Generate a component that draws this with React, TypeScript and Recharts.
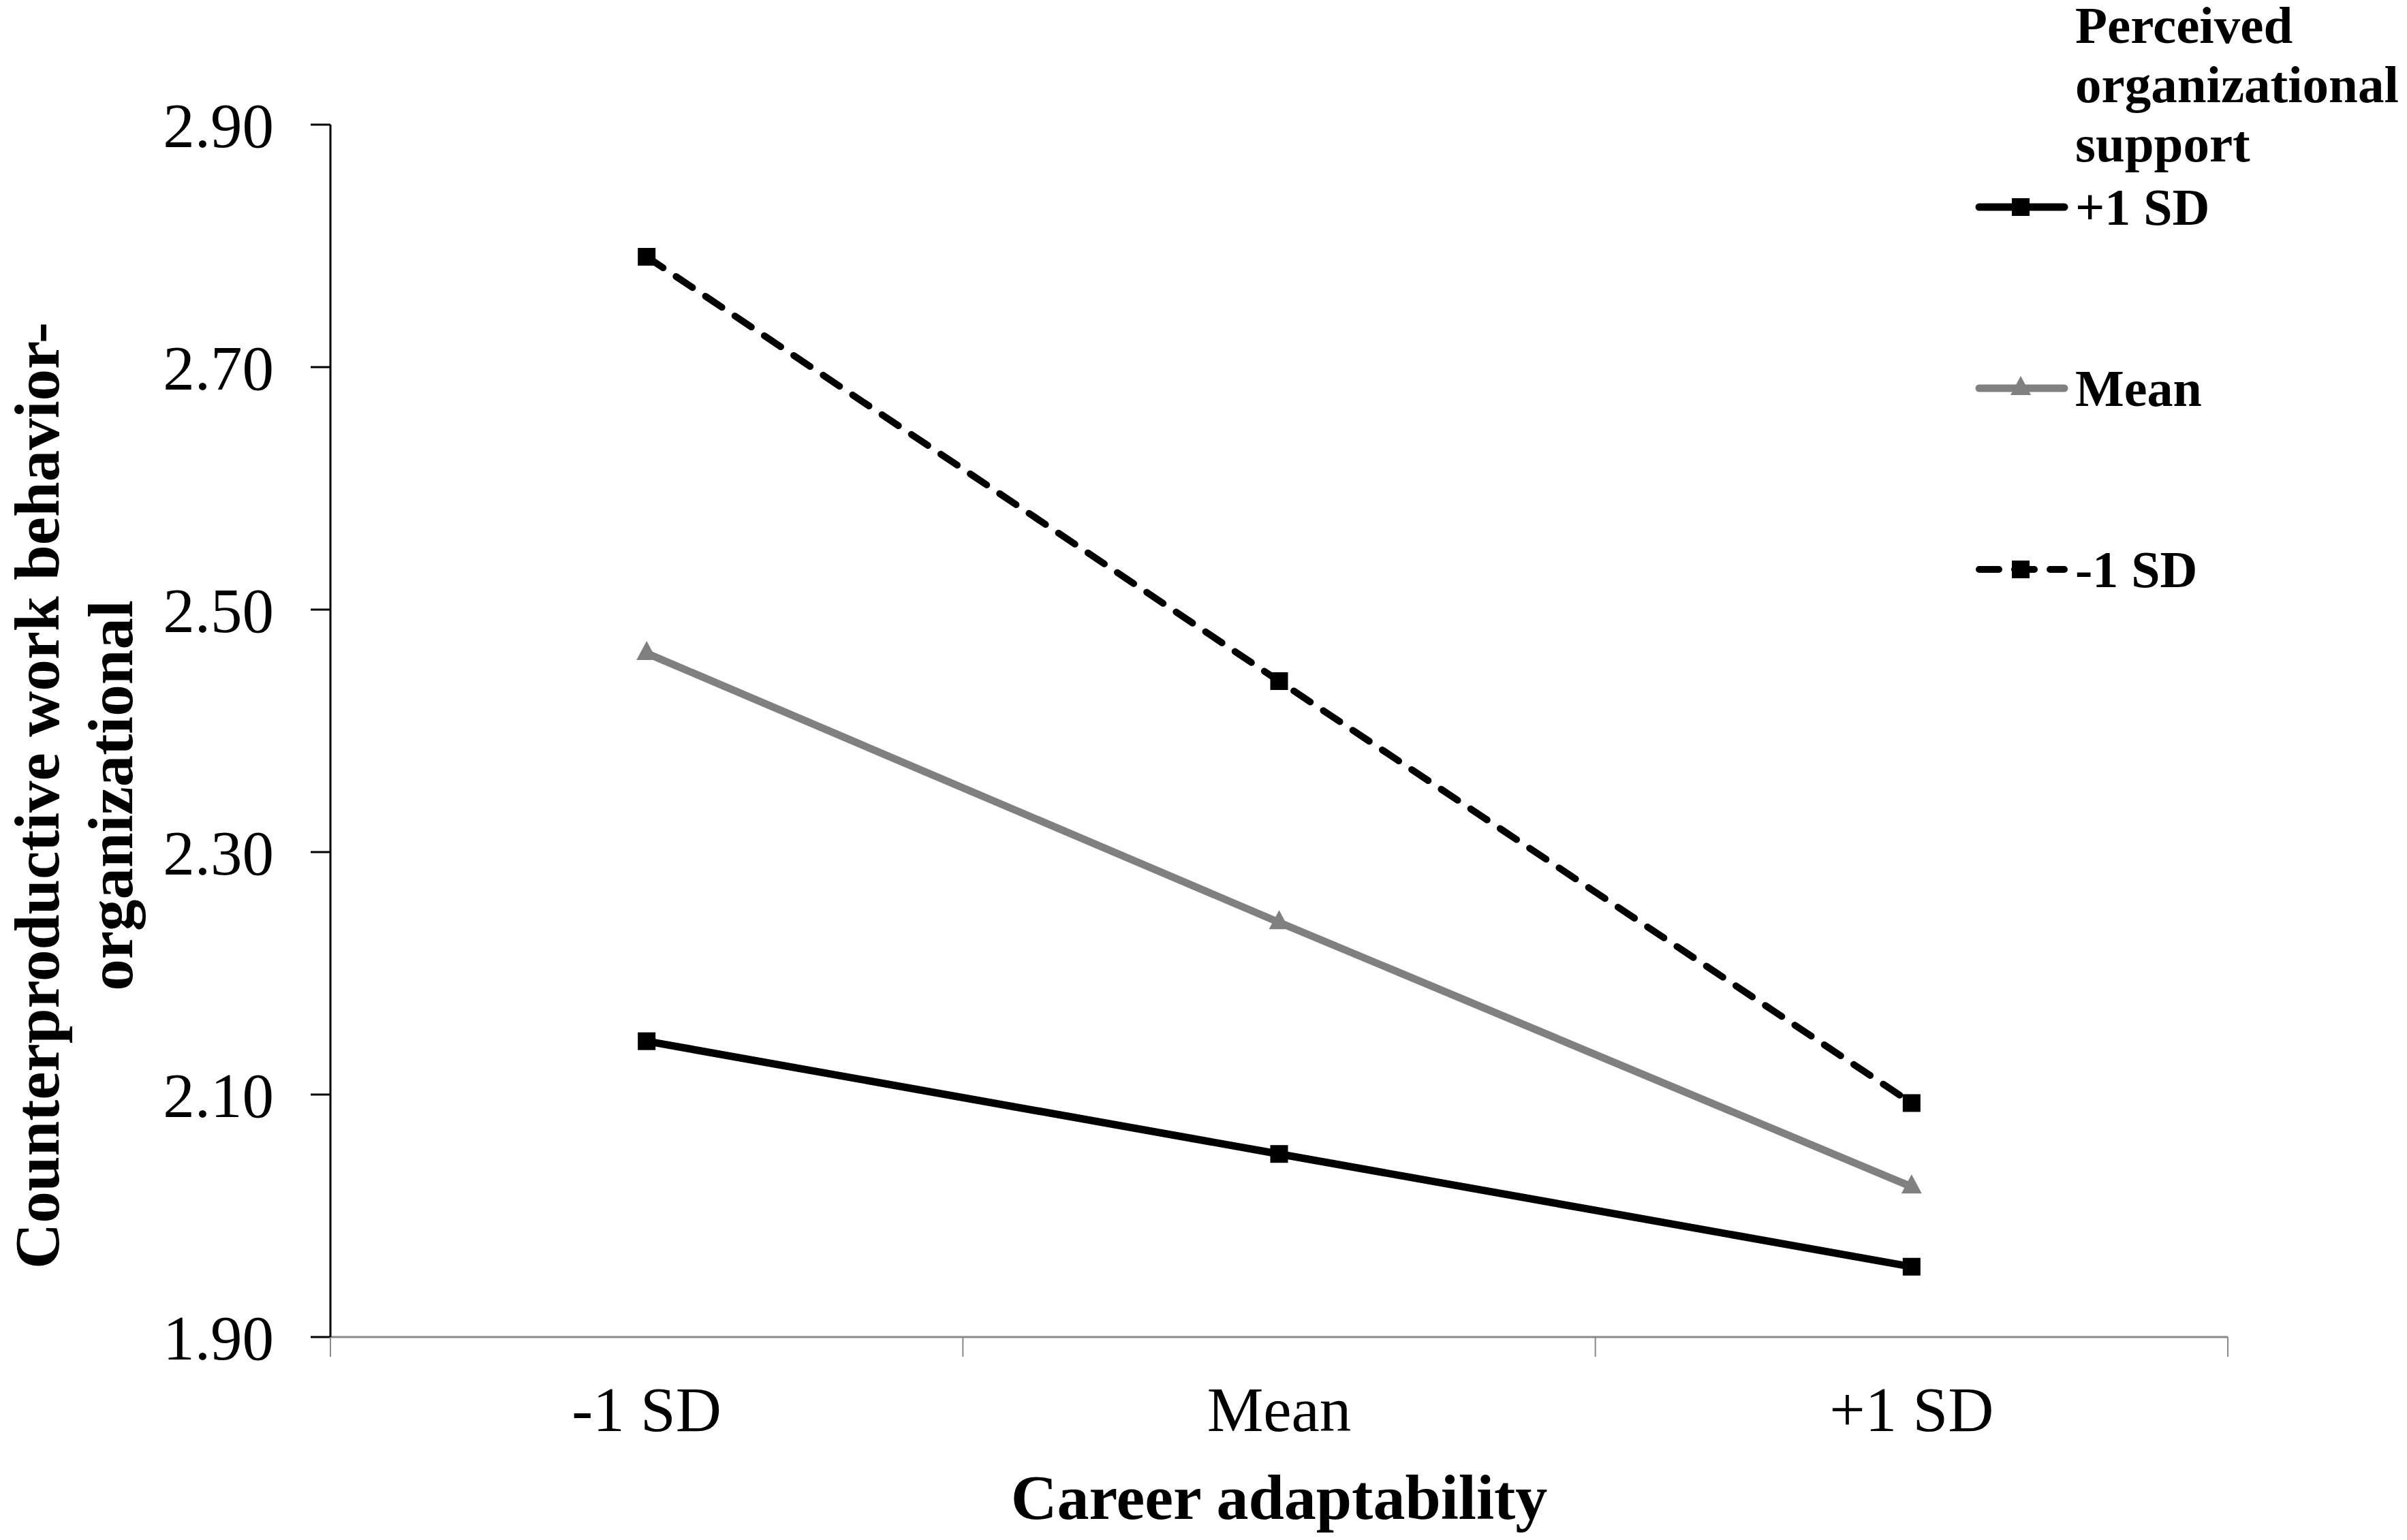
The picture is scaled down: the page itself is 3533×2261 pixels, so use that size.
import React from 'react';
import { LineChart, Line, XAxis, YAxis, Legend, Label } from 'recharts';

// values
const categories = ['-1 SD', 'Mean', '+1 SD'];
const highSupport = [2.144, 2.051, 1.958];
const meanSupport = [2.464, 2.242, 2.024];
const lowSupport = [2.791, 2.441, 2.093];
const yTicks = [1.9, 2.1, 2.3, 2.5, 2.7, 2.9];
const seriesNames = ['+1 SD', 'Mean', '-1 SD'];
const legendTitle = ['Perceived', 'organizational', 'support'];
const yTitleLines = ['Counterproductive work behavior-', 'organizational'];
const xTitle = 'Career adaptability';

const FONT = '"Liberation Serif", "Times New Roman", Times, serif';
const CHART_W = 3533;
const CHART_H = 2261;
const MARGIN = { top: 183, right: 263, bottom: 0, left: 0 };
const Y_AXIS_W = 485;
const X_AXIS_H = 298;
const AXIS_GRAY = '#898989';

const data = categories.map((name, i) => ({
  name,
  high: highSupport[i],
  mean: meanSupport[i],
  low: lowSupport[i],
}));

const series = [
  { key: 'high', name: seriesNames[0], color: '#000000', width: 11, dash: undefined, marker: 'square' },
  { key: 'mean', name: seriesNames[1], color: '#808080', width: 11, dash: undefined, marker: 'triangle' },
  { key: 'low', name: seriesNames[2], color: '#000000', width: 10, dash: '29 23', marker: 'square' },
];

const drawMarker = (shape: string, cx: number, cy: number, color: string, key?: string | number) => {
  if (shape === 'triangle') {
    return (
      <polygon
        key={key}
        points={`${cx},${cy - 18} ${cx + 15},${cy + 10} ${cx - 15},${cy + 10}`}
        fill={color}
      />
    );
  }
  return <rect key={key} x={cx - 13} y={cy - 13} width={26} height={26} fill={color} />;
};

const bandHalf = (CHART_W - MARGIN.right - MARGIN.left - Y_AXIS_W) / categories.length / 2;

const XTick = (props: any) => {
  const { x, y, payload, index, visibleTicksCount } = props;
  const axisY = y - 29 - 43;
  const isLast = index === (visibleTicksCount ?? categories.length) - 1;
  return (
    <g>
      <line x1={x - bandHalf} x2={x - bandHalf} y1={axisY} y2={axisY + 29} stroke={AXIS_GRAY} strokeWidth={2} />
      {isLast && (
        <line x1={x + bandHalf} x2={x + bandHalf} y1={axisY} y2={axisY + 29} stroke={AXIS_GRAY} strokeWidth={2} />
      )}
      <text x={x} y={y} dy="0.71em" textAnchor="middle" fill="#000" fontSize={93} fontFamily={FONT}>
        {payload.value}
      </text>
    </g>
  );
};

const YTitle = (props: any) => {
  const vb = props.viewBox || {};
  const top = vb.y ?? MARGIN.top;
  const h = vb.height ?? 1780;
  const cy = top + h / 2 + 95;
  const x0 = vb.x ?? 0;
  return (
    <g>
      {yTitleLines.map((t, i) => {
        const x = x0 + 86 + i * 108;
        return (
          <text
            key={t}
            x={x}
            y={cy}
            transform={`rotate(-90, ${x}, ${cy})`}
            textAnchor="middle"
            fontFamily={FONT}
            fontWeight="bold"
            fontSize={93}
            fill="#000"
          >
            {t}
          </text>
        );
      })}
    </g>
  );
};

const XTitle = (props: any) => {
  const vb = props.viewBox || {};
  const cx = (vb.x ?? Y_AXIS_W) + (vb.width ?? 2785) / 2;
  const y = (vb.y ?? 1963) + 267;
  return (
    <text x={cx} y={y} textAnchor="middle" fontFamily={FONT} fontWeight="bold" fontSize={94} fill="#000">
      {xTitle}
    </text>
  );
};

const renderLegend = () => (
  <svg width={653} height={900} style={{ display: 'block', overflow: 'visible' }}>
    {legendTitle.map((t, i) => (
      <text key={t} x={166} y={63 + i * 87} fontFamily={FONT} fontWeight="bold" fontSize={77} fill="#000">
        {t}
      </text>
    ))}
    {series.map((s, i) => {
      const cy = 304 + i * 266;
      return (
        <g key={s.key}>
          <line
            x1={25}
            x2={150}
            y1={cy}
            y2={cy}
            stroke={s.color}
            strokeWidth={s.width}
            strokeDasharray={s.dash}
            strokeLinecap="round"
          />
          {drawMarker(s.marker, 86, cy, s.color)}
          <text x={166} y={cy + 26} fontFamily={FONT} fontWeight="bold" fontSize={76} fill="#000">
            {s.name}
          </text>
        </g>
      );
    })}
  </svg>
);

export default function App() {
  return (
    <div style={{ position: 'absolute', left: 0, top: 0, width: CHART_W, height: CHART_H, background: '#fff' }}>
      <LineChart width={CHART_W} height={CHART_H} data={data} margin={MARGIN}>
        <XAxis
          dataKey="name"
          scale="band"
          height={X_AXIS_H}
          axisLine={{ stroke: AXIS_GRAY, strokeWidth: 3 }}
          tickLine={false}
          tickSize={29}
          tickMargin={43}
          tick={<XTick />}
          interval={0}
        >
          <Label content={<XTitle />} />
        </XAxis>
        <YAxis
          width={Y_AXIS_W}
          domain={[1.9, 2.9]}
          ticks={yTicks}
          interval={0}
          allowDataOverflow
          axisLine={{ stroke: '#000', strokeWidth: 3 }}
          tickLine={{ stroke: '#000', strokeWidth: 3 }}
          tickSize={29}
          tickMargin={54}
          tickFormatter={(v: number) => v.toFixed(2)}
          tick={{ fill: '#000', fontSize: 93, fontFamily: FONT }}
        >
          <Label content={<YTitle />} />
        </YAxis>
        <Legend
          verticalAlign="middle"
          layout="horizontal"
          align="center"
          wrapperStyle={{ left: 2880, top: 0, width: 653, height: 900 }}
          content={renderLegend}
        />
        {series.map((s) => (
          <Line
            key={s.key}
            dataKey={s.key}
            name={s.name}
            stroke={s.color}
            strokeWidth={s.width}
            strokeDasharray={s.dash}
            strokeLinecap={s.dash ? 'round' : 'butt'}
            isAnimationActive={false}
            activeDot={false}
            dot={(p: any) => drawMarker(s.marker, p.cx, p.cy, s.color, `${s.key}-${p.index}`)}
          />
        ))}
      </LineChart>
    </div>
  );
}
